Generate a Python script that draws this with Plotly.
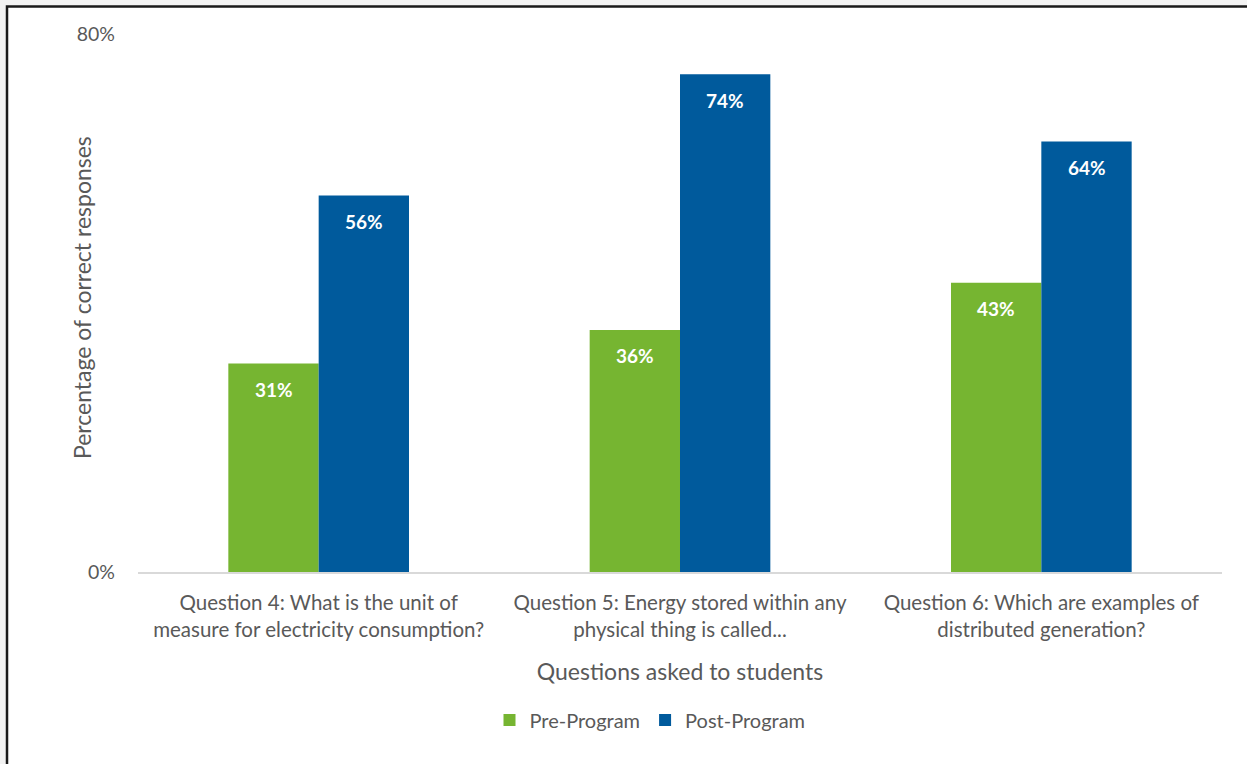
import plotly.graph_objects as go

questions = [
    "Question 4: What is the unit of<br>measure for electricity consumption?",
    "Question 5: Energy stored within any<br>physical thing is called...",
    "Question 6: Which are examples of<br>distributed generation?",
]
pre_program = [31, 36, 43]
post_program = [56, 74, 64]
series_names = ["Pre-Program", "Post-Program"]
y_ticks = [0, 80]

GREEN = "#76b531"
BLUE = "#005a9c"
TEXT = "#595959"
FONT = "Lato"

W, H = 1247, 764
L, R, T, B = 138, 25, 34, 192
pw, ph = W - L - R, H - T - B


def px_to_paper_x(px):
    return (px - L) / pw


def px_to_paper_y(py):
    return (H - B - py) / ph


fig = go.Figure()
for name, vals, col in [(series_names[0], pre_program, GREEN), (series_names[1], post_program, BLUE)]:
    fig.add_trace(go.Bar(
        x=questions, y=vals, name=name, marker=dict(color=col, line=dict(width=0)),
    ))

# value labels near the top of each bar (bars sit at -/+ a quarter of the group width)
for i, q in enumerate(questions):
    for vals, off in [(pre_program, -0.125), (post_program, 0.125)]:
        fig.add_annotation(
            x=i + off, y=vals[i], xref="x", yref="y", text=f"<b>{vals[i]}%</b>",
            showarrow=False, yshift=-26, font=dict(family=FONT, size=19, color="white"),
        )

# vertical axis title, placed close to the tick labels
fig.add_annotation(
    x=px_to_paper_x(82), y=px_to_paper_y(298), xref="paper", yref="paper",
    text="Percentage of correct responses", textangle=-90, showarrow=False,
    xanchor="center", yanchor="middle", font=dict(family=FONT, size=23, color=TEXT),
)

# framed white chart panel
fig.add_shape(
    type="rect", xref="paper", yref="paper", layer="below",
    x0=px_to_paper_x(7), x1=px_to_paper_x(W + 20),
    y0=px_to_paper_y(H + 20), y1=px_to_paper_y(6.5),
    fillcolor="white", line=dict(color="#1a1a1a", width=2.5),
)

fig.update_layout(
    width=W, height=H,
    margin=dict(l=L, r=R, t=T, b=B),
    paper_bgcolor="#f3f3f3", plot_bgcolor="rgba(0,0,0,0)",
    barmode="group", bargap=0.5, bargroupgap=0,
    font=dict(family=FONT, color=TEXT),
    showlegend=True,
    legend=dict(
        orientation="h", x=px_to_paper_x(650), xanchor="center", y=px_to_paper_y(720), yanchor="middle",
        font=dict(size=20, color=TEXT), itemwidth=30, bgcolor="rgba(0,0,0,0)",
    ),
    xaxis=dict(
        showline=True, linecolor="#d9d9d9", linewidth=1.5, showgrid=False,
        ticks="", tickfont=dict(size=20.5, color=TEXT), ticklabelstandoff=12,
        title=dict(text="Questions asked to students", font=dict(size=23, color=TEXT), standoff=24),
        automargin=False,
    ),
    yaxis=dict(
        range=[0, 80], tickvals=y_ticks, ticktext=[f"{v}%" for v in y_ticks],
        showgrid=False, zeroline=False,
        showline=False, ticks="", tickfont=dict(size=19.5, color=TEXT), ticklabelstandoff=22,
        automargin=False,
    ),
)

fig.write_html("out.html")
